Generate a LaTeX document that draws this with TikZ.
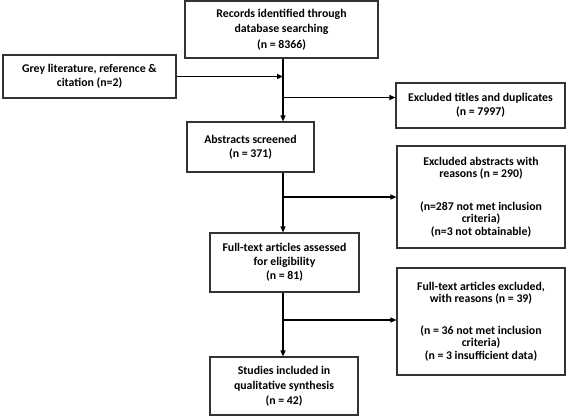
\documentclass[tikz,border=0pt]{standalone}
\usepackage{fontspec}
\setmainfont{Carlito}
\usetikzlibrary{arrows.meta}
\begin{document}
\begin{tikzpicture}[x=1pt,y=-1pt,
  box/.style={draw=black!80, line width=1.1pt, align=center, inner sep=0pt,
    font=\bfseries\fontsize{11.8}{13.8}\selectfont},
  arr/.style={line width=1.2pt, -{Triangle[length=6pt,width=5pt]}}]
\useasboundingbox (0,0) rectangle (567,416);
\coordinate (sp) at (283,0);
\node[box, minimum width=193pt, minimum height=57pt] (rec) at (281.5,29.5)
  {Records identified through\\[1.5pt] database searching\\[1.5pt] (n = 8366)};
\node[box, minimum width=173pt, minimum height=43pt] (grey) at (89.5,76.5)
  {Grey literature, reference \&\\ citation (n=2)};
\node[box, minimum width=169pt, minimum height=45pt] (exT) at (480.5,105.5)
  {Excluded titles and duplicates\\ (n = 7997)};
\node[box, minimum width=127pt, minimum height=50pt] (abs) at (250.5,147)
  {Abstracts screened\\ (n = 371)};
\node[box, minimum width=168pt, minimum height=102pt, font=\bfseries\fontsize{11.8}{12.2}\selectfont] (exA) at (481,197)
  {Excluded abstracts with\\ reasons (n = 290)\\[21pt] (n=287 not met inclusion\\ criteria)\\ (n=3 not obtainable)};
\node[box, minimum width=149pt, minimum height=59pt] (full) at (284.5,262.5)
  {Full-text articles assessed\\ for eligibility\\ (n = 81)};
\node[box, minimum width=168pt, minimum height=107pt, font=\bfseries\fontsize{11.8}{12.5}\selectfont] (exF) at (481,321.5)
  {Full-text articles excluded,\\ with reasons (n = 39)\\[19pt] (n = 36 not met inclusion\\ criteria)\\ (n = 3 insufficient data)};
\node[box, minimum width=148pt, minimum height=58pt] (stud) at (284,386)
  {Studies included in\\[1pt] qualitative synthesis\\[1pt] (n = 42)};
% spine connectors
\draw[arr] (rec.south -| sp) -- (abs.north -| sp);
\draw[arr] (grey.east) -- (grey.east -| sp);
\coordinate (b1) at (283,97.5);
\draw[arr] (b1) -- (b1 -| exT.west);
\draw[arr] (abs.south -| sp) -- (full.north -| sp);
\draw[arr] (exA.west -| sp) -- (exA.west);
\draw[arr] (full.south -| sp) -- (stud.north -| sp);
\coordinate (b3) at (283,320);
\draw[arr] (b3) -- (b3 -| exF.west);
\end{tikzpicture}
\end{document}
